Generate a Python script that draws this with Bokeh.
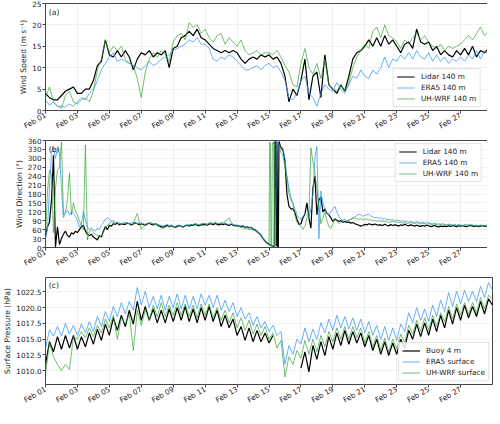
import numpy as np
from bokeh.plotting import figure
from bokeh.models import (FixedTicker, DatetimeTickFormatter, PrintfTickFormatter,
                          Legend, LegendItem, Label, Range1d)
from bokeh.layouts import column
from bokeh.embed import file_html
from bokeh.resources import INLINE

nan = float("nan")

# ---------------- data ----------------
# wind speed at 140 m, 6-hourly from Feb 01 00:00 (m/s)
lidar_speed = [
    4.0, 3.0, 2.5, 2.5,
    3.5, 4.5, 5.0, 5.5,
    4.0, 4.0, 5.0, 5.0,
    7.0, 10.5, 11.5, 16.5,
    13.0, 12.5, 14.0, 12.5,
    14.0, 12.5, 9.5, 12.0,
    13.5, 13.0, 14.0, 12.5,
    13.5, 13.0, 14.0, 10.0,
    14.5, 15.0, 17.0, 17.5,
    18.5, 17.5, 19.0, 17.0,
    16.5, 15.5, 14.5, 14.0,
    13.5, 14.0, 13.5, 14.0,
    13.5, 12.0, 11.0, 12.0,
    12.5, 12.0, 13.0, 12.5,
    13.0, 12.0, 12.5, 11.0,
    8.0, 2.0, 5.0, 3.5,
    7.0, 12.0, 2.5, 8.0,
    9.0, 3.0, 13.0, 6.0,
    5.0, 4.0, 6.0, 4.5,
    8.0, 12.0, 13.5, 14.0,
    15.0, 16.5, 15.0, 17.0,
    15.0, 17.5, 15.5, 16.5,
    15.0, 13.5, 15.5, 16.0,
    14.5, 19.0, 16.0, 15.5,
    16.0, 14.0, 15.0, 13.0,
    14.0, 13.0, 12.5, 14.0,
    13.0, 14.5, 13.0, 15.0,
    12.5, 14.0, 13.5, 14.5,
    13.0]
era5_speed = [
    2.5, 1.2, 2.0, 1.0,
    1.0, 0.8, 1.5, 1.0,
    2.0, 3.0, 2.5, 4.0,
    5.0, 7.0, 9.5, 11.0,
    12.5, 13.5, 11.5, 12.0,
    11.5, 11.0, 10.5, 10.0,
    9.5, 10.5, 11.5, 10.5,
    11.0, 12.0, 12.5, 13.0,
    14.0, 14.5, 15.0, 15.5,
    16.5, 16.0, 17.0, 15.5,
    15.5, 14.5, 12.0, 11.5,
    12.5, 12.0, 13.0, 12.5,
    11.5, 10.5, 9.5, 9.5,
    10.0, 10.5, 9.5, 10.5,
    11.0, 10.0, 10.5, 9.0,
    7.0, 3.0, 2.5, 4.0,
    7.0, 8.0, 4.0, 3.0,
    1.0, 4.0, 6.0, 5.0,
    4.5, 6.5, 5.0, 4.0,
    6.0, 8.0, 7.5, 9.5,
    8.0, 7.5, 9.5, 8.5,
    10.0, 12.5, 10.0, 12.0,
    11.5, 13.0, 12.0, 13.5,
    12.0, 14.0, 12.5, 12.0,
    13.5, 11.5, 13.0, 11.5,
    12.5, 11.0, 12.0, 11.5,
    12.5, 11.5, 13.0, 12.0,
    14.0, 12.0, 14.0, 13.0,
    12.5]
wrf_speed = [
    3.0, 5.5, 2.0, 1.0,
    0.5, 3.5, 4.5, 2.0,
    1.5, 2.5, 3.0, 2.0,
    4.5, 9.5, 12.0, 16.5,
    13.5, 15.0, 14.0, 15.0,
    12.0, 11.0, 10.5, 7.5,
    3.0, 9.0, 12.0, 13.5,
    12.5, 14.0, 13.0, 11.5,
    16.0, 17.5, 18.0, 16.5,
    20.5, 19.5, 20.0, 18.0,
    19.0, 17.0, 16.0, 17.5,
    18.0, 15.5, 17.0, 16.0,
    15.0, 16.5, 14.0, 13.0,
    13.5, 14.0, 13.0, 13.5,
    13.5, 13.0, 14.0, 12.5,
    10.5, 9.0, 6.0, 5.5,
    11.0, 14.5, 10.0, 8.5,
    11.0, 7.5, 12.0, 6.0,
    5.0, 4.5, 6.0, 4.5,
    6.5, 10.0, 12.5, 14.0,
    15.5, 14.5, 18.5, 19.5,
    17.0, 20.0, 17.5, 17.0,
    16.0, 14.5, 16.5, 15.5,
    17.0, 18.0, 16.5, 17.5,
    16.0, 15.0, 14.5, 15.5,
    14.0, 15.0, 14.5, 15.0,
    15.5, 16.5, 17.5, 16.5,
    18.0, 19.5, 17.5, 18.5,
    19.0]

# wind direction (deg): 3-hourly Feb 01 00:00 - Feb 14 21:00 (part a),
# hourly Feb 15 00:00 - 18:00, 3-hourly Feb 15 21:00 - Mar 01 00:00 (part b)
lidar_dir_a = [
    40, 70, 85, 160, 310, 2, 70, 10,
    30, 45, 55, 40, 35, 50, 45, 55,
    50, 60, 70, 75, 55, 45, 40, 45,
    35, 30, 25, 40, 35, 55, 70, 60,
    75, 72, 80, 78, 82, 76, 80, 78,
    78, 82, 80, 76, 79, 83, 80, 77,
    80, 78, 75, 79, 82, 78, 76, 80,
    77, 72, 70, 68, 72, 75, 70, 73,
    70, 68, 72, 74, 71, 69, 73, 75,
    72, 76, 74, 78, 75, 73, 77, 76,
    78, 75, 79, 80, 77, 81, 78, 76,
    79, 77, 80, 76, 74, 78, 75, 73,
    74, 72, 70, 72, 68, 70, 66, 68,
    62, 60, 55, 48, 42, 30, 22, 15]
lidar_dir_feb15 = [10, 9, 8, 7, 6, 5, 4, 5, 3, 357, 355, 4, 356, 2, 3, 357, 350, 343, 336]
lidar_dir_b = [
    328,
    290, 180, 138, 130, 130, 117, 95, 78,
    80, 100, 112, 150, 100, 65, 200, 240,
    110, 160, 170, 120, 130, 115, 110, 100,
    88, 95, 92, 88, 90, 85, 88, 84,
    86, 82, 84, 80, 78, 75, 72, 74,
    78, 76, 80, 78, 76, 79, 77, 75,
    76, 74, 78, 75, 73, 77, 74, 76,
    75, 72, 76, 74, 78, 75, 73, 76,
    74, 72, 75, 73, 71, 74, 72, 75,
    73, 70, 72, 74, 71, 69, 72, 70,
    72, 70, 73, 71, 74, 72, 70, 73,
    72, 74, 71, 70, 73, 75, 72, 71,
    73, 70, 72, 74, 71, 73, 70, 72,
    71]
era5_dir_a = [
    30, 60, 200, 320, 340, 300, 335, 320,
    200, 100, 115, 125, 110, 120, 115, 105,
    90, 70, 80, 120, 90, 70, 60, 65,
    60, 55, 65, 60, 75, 85, 95, 100,
    95, 88, 84, 82, 85, 83, 80, 82,
    84, 82, 80, 83, 85, 82, 80, 84,
    82, 80, 78, 80, 83, 81, 79, 80,
    78, 76, 74, 72, 75, 77, 74, 76,
    72, 70, 74, 76, 73, 71, 75, 77,
    76, 78, 76, 80, 78, 77, 79, 80,
    80, 78, 82, 84, 80, 83, 81, 80,
    82, 80, 83, 79, 78, 80, 77, 76,
    76, 74, 72, 73, 70, 71, 68, 66,
    64, 60, 55, 50, 42, 32, 24, 18]
era5_dir_feb15 = [14, 12, 10, 9, 8, 7, 6, 5, 4, 3, 2, 358, 355, 352, 350, 348, 345, 342, 340]
era5_dir_b = [
    335,
    300, 240, 200, 170, 150, 130, 110, 100,
    95, 105, 115, 110, 100, 130, 180, 300,
    340, 30, 190, 150, 130, 115, 110, 120,
    130, 138, 120, 105, 95, 92, 95, 90,
    92, 95, 100, 102, 108, 112, 110, 105,
    108, 110, 112, 106, 104, 100, 102, 98,
    100, 96, 98, 94, 95, 92, 94, 90,
    92, 90, 88, 90, 86, 88, 85, 87,
    86, 84, 87, 85, 83, 85, 82, 84,
    83, 81, 80, 82, 79, 80, 78, 80,
    78, 76, 79, 77, 76, 78, 75, 77,
    76, 74, 77, 75, 76, 78, 75, 74,
    75, 73, 76, 74, 72, 75, 73, 74,
    73]
wrf_dir_a = [
    30, 190, 260, 245, 50, 200, 260, 270,
    355, 110, 120, 160, 250, 110, 150, 120,
    110, 90, 75, 60, 345, 25, 55, 60,
    50, 45, 40, 35, 40, 50, 65, 75,
    80, 88, 90, 85, 82, 80, 78, 82,
    84, 80, 82, 78, 80, 100, 115, 85,
    62, 70, 78, 82, 80, 84, 80, 78,
    74, 70, 66, 64, 68, 72, 70, 74,
    70, 66, 68, 72, 70, 68, 72, 74,
    74, 78, 76, 80, 78, 74, 78, 82,
    80, 78, 84, 82, 80, 86, 82, 80,
    84, 82, 88, 92, 100, 86, 78, 74,
    72, 70, 68, 66, 62, 64, 60, 62,
    58, 56, 50, 46, 38, 28, 20, 14]
wrf_dir_feb15 = [10, 355, 350, 5, 8, 352, 348, 355, 2, 350, 348, 346, 350, 345, 342, 340, 335, 328, 320]
wrf_dir_b = [
    310,
    270, 235, 180, 160, 145, 110, 85, 78,
    72, 62, 70, 100, 110, 335, 290, 250,
    200, 140, 80, 100, 120, 90, 70, 65,
    80, 100, 90, 80, 85, 90, 85, 88,
    92, 95, 98, 100, 96, 95, 98, 94,
    95, 96, 92, 94, 90, 92, 88, 90,
    88, 90, 86, 88, 84, 86, 88, 85,
    86, 84, 86, 82, 84, 80, 82, 84,
    82, 80, 83, 81, 79, 82, 80, 78,
    80, 78, 76, 79, 77, 75, 78, 76,
    76, 74, 77, 75, 73, 76, 74, 75,
    74, 72, 75, 78, 74, 72, 75, 73,
    74, 72, 73, 71, 74, 72, 73, 71,
    72]

# surface pressure (hPa), 6-hourly from Feb 01 00:00
buoy_pres = [
    1011.0, 1014.6, 1013.0, 1015.4,
    1013.4, 1015.6, 1013.6, 1015.6,
    1013.4, 1015.4, 1013.8, 1016.0,
    1014.2, 1016.6, 1014.8, 1017.4,
    1015.6, 1018.4, 1016.4, 1018.8,
    1017.0, 1019.6, 1017.4, 1021.0,
    1018.0, 1020.2, 1018.0, 1019.8,
    1017.6, 1019.6, 1017.6, 1019.8,
    1017.8, 1020.0, 1018.0, 1020.2,
    1017.8, 1019.8, 1017.6, 1020.0,
    1018.0, 1020.2, 1017.8, 1019.6,
    1017.0, 1018.8, 1016.8, 1018.2,
    1015.6, 1017.0, 1014.8, 1016.8,
    1014.6, 1016.4, 1014.6, 1016.0,
    1014.4, 1015.6, nan, nan,
    nan, nan, nan, nan,
    1010.4, 1013.0, 1009.8, 1014.0,
    1011.8, 1014.6, 1012.4, 1015.4,
    1013.4, 1016.0, 1014.0, 1016.4,
    1014.2, 1016.2, 1014.4, 1016.0,
    1013.8, 1015.6, 1013.2, 1015.0,
    1012.6, 1014.6, 1012.4, 1014.4,
    1012.6, 1015.0, 1013.6, 1016.4,
    1015.0, 1017.4, 1015.4, 1017.6,
    1015.6, 1018.2, 1016.2, 1018.8,
    1016.8, 1019.6, 1017.4, 1020.0,
    1018.0, 1020.4, 1018.4, 1020.2,
    1018.6, 1021.0, 1019.0, 1021.4,
    1020.4]
era5_pres = [
    1013.5, 1016.5, 1015.5, 1017.0,
    1015.5, 1017.5, 1015.8, 1017.2,
    1015.6, 1017.4, 1016.0, 1017.8,
    1016.2, 1018.6, 1017.0, 1019.4,
    1017.8, 1020.2, 1018.6, 1020.8,
    1019.0, 1021.0, 1019.6, 1023.2,
    1020.4, 1022.6, 1020.0, 1021.8,
    1019.8, 1022.0, 1019.6, 1021.8,
    1020.0, 1022.2, 1019.8, 1022.0,
    1019.8, 1021.8, 1019.8, 1022.2,
    1020.4, 1022.0, 1020.0, 1022.0,
    1019.6, 1021.2, 1019.4, 1020.8,
    1018.6, 1020.0, 1018.2, 1019.2,
    1017.2, 1018.6, 1016.8, 1017.8,
    1016.2, 1017.2, 1015.6, 1016.2,
    1011.0, 1014.0, 1012.6, 1015.0,
    1014.2, 1016.8, 1014.6, 1016.6,
    1015.0, 1017.6, 1016.0, 1018.2,
    1016.4, 1018.8, 1016.8, 1018.6,
    1016.6, 1018.4, 1016.4, 1018.2,
    1016.0, 1017.8, 1015.6, 1017.2,
    1015.0, 1017.0, 1014.8, 1016.8,
    1014.8, 1017.4, 1016.2, 1019.2,
    1017.6, 1020.0, 1018.0, 1019.8,
    1017.8, 1020.4, 1018.6, 1021.2,
    1019.4, 1022.4, 1020.2, 1022.6,
    1020.6, 1022.8, 1021.0, 1022.6,
    1021.0, 1023.4, 1021.6, 1024.0,
    1022.8]
wrf_pres = [
    1009.4, 1014.4, 1012.2, 1011.0,
    1010.0, 1011.0, 1010.2, 1015.4,
    1015.0, 1016.2, 1015.2, 1016.8,
    1015.4, 1017.2, 1016.0, 1018.2,
    1016.8, 1018.8, 1015.0, 1018.4,
    1017.4, 1019.0, 1013.2, 1019.6,
    1017.2, 1019.6, 1018.0, 1020.4,
    1018.6, 1020.8, 1018.6, 1020.4,
    1018.8, 1020.8, 1018.8, 1020.6,
    1018.6, 1020.4, 1018.4, 1020.6,
    1018.8, 1020.6, 1018.4, 1020.0,
    1018.0, 1019.6, 1017.6, 1019.2,
    1016.8, 1018.4, 1016.4, 1018.0,
    1015.8, 1017.4, 1015.6, 1017.0,
    1015.0, 1016.0, 1013.6, 1014.8,
    1009.0, 1012.2, 1011.0, 1013.2,
    1012.0, 1014.8, 1012.6, 1015.0,
    1013.0, 1015.6, 1013.8, 1016.2,
    1014.6, 1016.8, 1015.0, 1017.0,
    1015.0, 1017.0, 1015.2, 1016.8,
    1014.4, 1016.2, 1013.8, 1015.6,
    1013.2, 1015.2, 1013.0, 1015.0,
    1013.4, 1015.8, 1014.4, 1017.2,
    1015.8, 1018.0, 1016.2, 1018.4,
    1016.4, 1018.8, 1017.0, 1019.2,
    1017.8, 1020.2, 1018.2, 1020.6,
    1018.8, 1020.8, 1019.0, 1020.8,
    1019.2, 1021.6, 1019.8, 1022.0,
    1021.4]

xtick_days = [1, 3, 5, 7, 9, 11, 13, 15, 17, 19, 21, 23, 25, 27]   # Feb 01 ... Feb 27

# ---------------- time axes ----------------
T0 = np.datetime64("2020-02-01T00:00")
H = np.timedelta64(1, "h")


def hours_from(start_h, step_h, n):
    return T0 + (start_h + step_h * np.arange(n)) * H


t6 = hours_from(0, 6, len(lidar_speed))


def dir_series(a, feb15, b):
    t = np.concatenate([hours_from(0, 3, len(a)),
                        hours_from(14 * 24, 1, len(feb15)),
                        hours_from(14 * 24 + 21, 3, len(b))])
    return t, np.array(a + feb15 + b, dtype=float)


def ms(dt64):
    return float(dt64.astype("datetime64[ms]").astype(np.int64))


x0 = ms(T0)
x1 = ms(T0 + 28 * 24 * H)
xticks = [ms(T0 + (d - 1) * 24 * H) for d in xtick_days]

BLACK = "#000000"
BLUE = "#3f9ef5"
GREEN = "#2ca02c"
FONT = "DejaVu Sans"
TXT = "#222222"


def make_fig(ylo, yhi, yticks, ylabel, yfmt=None):
    p = figure(frame_width=447, frame_height=107, x_axis_type="datetime",
               x_range=Range1d(x0, x1), y_range=Range1d(ylo, yhi),
               output_backend="svg", toolbar_location=None, title=None,
               min_border_left=39, min_border_right=1,
               min_border_top=3, min_border_bottom=26)
    p.xaxis.ticker = FixedTicker(ticks=xticks)
    p.xgrid.ticker = FixedTicker(ticks=xticks)
    p.yaxis.ticker = FixedTicker(ticks=yticks)
    p.ygrid.ticker = FixedTicker(ticks=yticks)
    p.xaxis.formatter = DatetimeTickFormatter(days="%b %d", months="%b %d",
                                              hours="%b %d", years="%b %d")
    if yfmt:
        p.yaxis.formatter = PrintfTickFormatter(format=yfmt)
    p.xaxis.major_label_orientation = np.pi / 6
    p.xaxis.axis_label_standoff = 0
    for ax in (p.xaxis, p.yaxis):
        ax.major_label_text_font_size = "7.2px"
        ax.major_label_text_font = FONT
        ax.major_label_text_color = TXT
        ax.major_label_standoff = 1
        ax.major_tick_out = 3
        ax.major_tick_in = 0
        ax.minor_tick_out = 0
        ax.minor_tick_in = 0
        ax.major_tick_line_color = "#444444"
        ax.minor_tick_line_color = None
        ax.axis_line_color = None
    p.yaxis.axis_label = ylabel
    p.yaxis.axis_label_text_font_size = "7.6px"
    p.yaxis.axis_label_text_font = FONT
    p.yaxis.axis_label_text_font_style = "normal"
    p.yaxis.axis_label_text_color = TXT
    p.yaxis.axis_label_standoff = 1
    p.grid.grid_line_color = "#ececec"
    p.grid.grid_line_width = 0.8
    p.outline_line_color = "#444444"
    p.outline_line_width = 1
    return p


def add_legend(p, items, loc):
    lg = Legend(items=items, location=loc)
    lg.label_text_font_size = "7.3px"
    lg.label_text_font = FONT
    lg.label_text_color = TXT
    lg.glyph_width = 18
    lg.glyph_height = 9
    lg.label_height = 9
    lg.spacing = 2
    lg.padding = 3
    lg.margin = 3
    lg.label_standoff = 6
    lg.border_line_color = "#cccccc"
    lg.background_fill_alpha = 0.85
    p.add_layout(lg)


def panel_label(p, y, text):
    p.add_layout(Label(x=ms(T0 + 5 * H), y=y, text=text, text_font=FONT,
                       text_font_size="7.6px", text_baseline="middle",
                       text_color=TXT))


# ---- (a) wind speed
pa = make_fig(0, 25, [0, 5, 10, 15, 20, 25], "Wind Speed (m s⁻¹)")
ra1 = pa.line(t6, lidar_speed, line_color=BLACK, line_width=1.2)
ra2 = pa.line(t6, era5_speed, line_color=BLUE, line_width=0.8)
ra3 = pa.line(t6, wrf_speed, line_color=GREEN, line_width=0.9, line_alpha=0.75)
add_legend(pa, [LegendItem(label="Lidar 140 m", renderers=[ra1]),
                LegendItem(label="ERA5 140 m", renderers=[ra2]),
                LegendItem(label="UH-WRF 140 m", renderers=[ra3])], "bottom_right")
panel_label(pa, 23.0, "(a)")

# ---- (b) wind direction
pb = make_fig(0, 360, list(range(0, 361, 30)), "Wind Direction (°)")
tl, vl = dir_series(lidar_dir_a, lidar_dir_feb15, lidar_dir_b)
te, ve = dir_series(era5_dir_a, era5_dir_feb15, era5_dir_b)
tw, vw = dir_series(wrf_dir_a, wrf_dir_feb15, wrf_dir_b)
rb1 = pb.line(tl, vl, line_color=BLACK, line_width=1.2)
rb2 = pb.line(te, ve, line_color=BLUE, line_width=0.8)
rb3 = pb.line(tw, vw, line_color=GREEN, line_width=0.9, line_alpha=0.75)
add_legend(pb, [LegendItem(label="Lidar 140 m", renderers=[rb1]),
                LegendItem(label="ERA5 140 m", renderers=[rb2]),
                LegendItem(label="UH-WRF 140 m", renderers=[rb3])], "top_right")
panel_label(pb, 331, "(b)")

# ---- (c) surface pressure
pc = make_fig(1007.8, 1024.8, [1010.0, 1012.5, 1015.0, 1017.5, 1020.0, 1022.5],
              "Surface Pressure (hPa)", yfmt="%.1f")
rc1 = pc.line(t6, buoy_pres, line_color=BLACK, line_width=1.2)
rc2 = pc.line(t6, era5_pres, line_color=BLUE, line_width=0.8)
rc3 = pc.line(t6, wrf_pres, line_color=GREEN, line_width=0.9, line_alpha=0.75)
add_legend(pc, [LegendItem(label="Buoy 4 m", renderers=[rc1]),
                LegendItem(label="ERA5 surface", renderers=[rc2]),
                LegendItem(label="UH-WRF surface", renderers=[rc3])], "bottom_right")
panel_label(pc, 1023.6, "(c)")

layout = column(pa, pb, pc, spacing=0)
open("out.html", "w").write(file_html(layout, INLINE))
